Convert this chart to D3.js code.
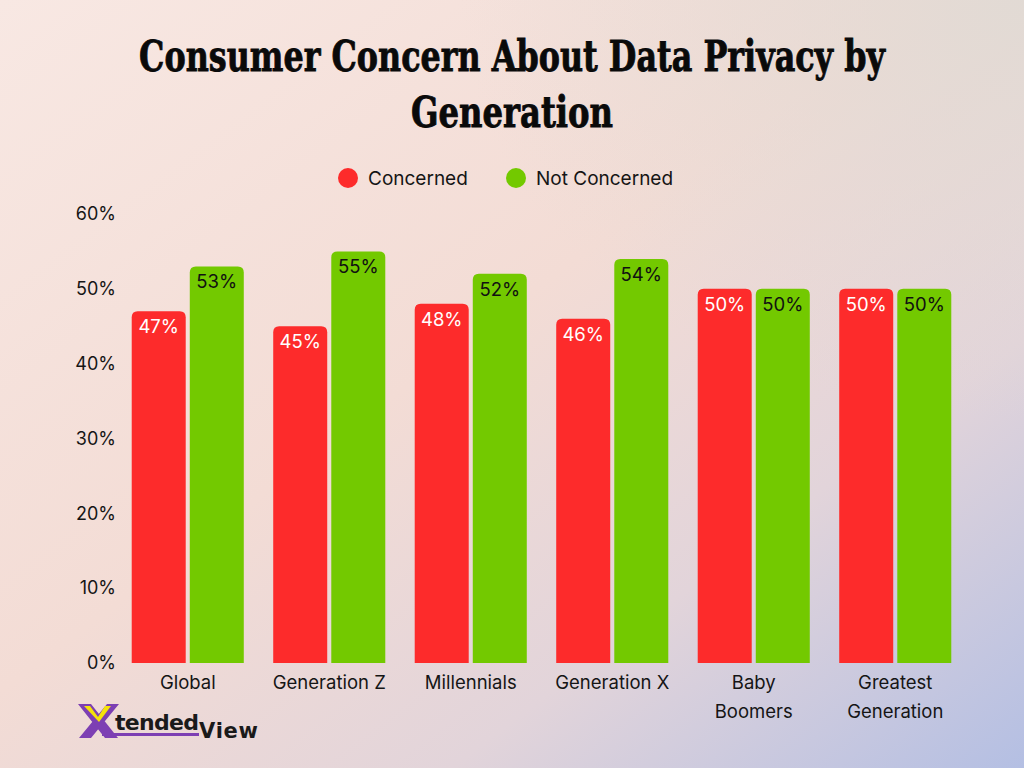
<!DOCTYPE html>
<html>
<head>
<meta charset="utf-8">
<script src="https://cdn.jsdelivr.net/npm/d3@7"></script>
<style>
  html, body { margin: 0; padding: 0; }
  body { width: 1024px; height: 768px; overflow: hidden; }
  text { font-family: "Inter", "Open Sans", sans-serif; }
</style>
</head>
<body>
<div id="chart"></div>
<script>
// Data
const categories = [["Global"], ["Generation Z"], ["Millennials"], ["Generation X"], ["Baby", "Boomers"], ["Greatest", "Generation"]];
const seriesNames = ["Concerned", "Not Concerned"];
const concerned = [47, 45, 48, 46, 50, 50];
const notConcerned = [53, 55, 52, 54, 50, 50];
const yTicks = [0, 10, 20, 30, 40, 50, 60];

const colors = {"Concerned": "#fd2b2b", "Not Concerned": "#73c900"};
const labelColors = {"Concerned": "#ffffff", "Not Concerned": "#111111"};

const width = 1024, height = 768;
const margin = {top: 214, bottom: 663, left: 117, right: 966};

const svg = d3.select("#chart").append("svg")
    .attr("width", width)
    .attr("height", height);

// background gradient
const defs = svg.append("defs");
const grad = defs.append("linearGradient")
    .attr("id", "bg")
    .attr("x1", "0%").attr("y1", "0%")
    .attr("x2", "100%").attr("y2", "100%");
grad.append("stop").attr("offset", "0%").attr("stop-color", "#f8e8e3");
grad.append("stop").attr("offset", "45%").attr("stop-color", "#f3dcd5");
grad.append("stop").attr("offset", "72%").attr("stop-color", "#e2d4da");
grad.append("stop").attr("offset", "100%").attr("stop-color", "#b4bfe3");
svg.append("rect").attr("width", width).attr("height", height).attr("fill", "url(#bg)");

// greyer top-right corner
const glow = defs.append("radialGradient")
    .attr("id", "tr")
    .attr("cx", "100%").attr("cy", "0%").attr("r", "55%");
glow.append("stop").attr("offset", "0%").attr("stop-color", "#e0dad4").attr("stop-opacity", 0.9);
glow.append("stop").attr("offset", "100%").attr("stop-color", "#e0dad4").attr("stop-opacity", 0);
svg.append("rect").attr("width", width).attr("height", height).attr("fill", "url(#tr)");

// Title - squeeze horizontally to get the condensed look
const titleLines = [
    {text: "Consumer Concern About Data Privacy by", y: 71, len: 746},
    {text: "Generation", y: 127, len: 202}
];
svg.append("g").selectAll("text")
    .data(titleLines)
    .enter().append("text")
    .attr("text-anchor", "middle")
    .style("font-family", "'DejaVu Serif', serif")
    .style("font-weight", "bold")
    .style("font-size", "42px")
    .attr("fill", "#0a0a0a")
    .attr("stroke", "#0a0a0a")
    .attr("stroke-width", 0.9)
    .text(d => d.text)
    .each(function(d) {
        const w = this.getComputedTextLength();
        d3.select(this).attr("transform",
            "translate(512," + d.y + ") scale(" + (d.len / w) + ",1)");
    });

// Legend
const legendX = [348, 516];
const legend = svg.append("g").selectAll("g")
    .data(seriesNames)
    .enter().append("g")
    .attr("transform", (d, i) => "translate(" + legendX[i] + ",178)");
legend.append("circle").attr("r", 10).attr("fill", d => colors[d]);
legend.append("text")
    .attr("x", 20).attr("y", 7)
    .style("font-size", "19px")
    .attr("fill", "#151515")
    .text(d => d);

// Scales
const x0 = d3.scaleBand()
    .domain(d3.range(categories.length))
    .range([margin.left, margin.right])
    .paddingInner(0.208)
    .paddingOuter(0.104);
const x1 = d3.scaleBand()
    .domain(seriesNames)
    .range([0, x0.bandwidth()])
    .paddingInner(0.07);
const y = d3.scaleLinear().domain([0, 60]).range([margin.bottom, margin.top]);

// Y axis
const yAxis = d3.axisLeft(y)
    .tickValues(yTicks)
    .tickFormat(d => d + "%")
    .tickSize(0)
    .tickPadding(0);
const yg = svg.append("g")
    .attr("transform", "translate(116,0)")
    .call(yAxis);
yg.select(".domain").remove();
yg.selectAll("text")
    .style("font-family", "Inter, sans-serif")
    .style("font-size", "18px")
    .attr("fill", "#151515");

// X axis
const xAxis = d3.axisBottom(x0).tickSize(0).tickFormat("");
const xg = svg.append("g")
    .attr("transform", "translate(0," + margin.bottom + ")")
    .call(xAxis);
xg.select(".domain").remove();
xg.selectAll(".tick").each(function(d) {
    const t = d3.select(this).append("text")
        .attr("text-anchor", "middle")
        .style("font-family", "Inter, sans-serif")
        .style("font-size", "18.5px")
        .attr("fill", "#151515");
    categories[d].forEach((line, i) => {
        t.append("tspan").attr("x", 0).attr("y", 26 + i * 29).text(line);
    });
});

// Bars
const rows = categories.map((c, i) => ({
    idx: i,
    values: [
        {key: "Concerned", value: concerned[i]},
        {key: "Not Concerned", value: notConcerned[i]}
    ]
}));

function topRounded(xp, yp, w, h, r) {
    return "M" + xp + "," + (yp + h) +
        "V" + (yp + r) +
        "Q" + xp + "," + yp + " " + (xp + r) + "," + yp +
        "H" + (xp + w - r) +
        "Q" + (xp + w) + "," + yp + " " + (xp + w) + "," + (yp + r) +
        "V" + (yp + h) + "Z";
}

const groups = svg.append("g").selectAll("g")
    .data(rows)
    .enter().append("g")
    .attr("transform", d => "translate(" + x0(d.idx) + ",0)");

groups.selectAll("path")
    .data(d => d.values)
    .enter().append("path")
    .attr("d", d => topRounded(x1(d.key), y(d.value), x1.bandwidth(), y(0) - y(d.value), 6))
    .attr("fill", d => colors[d.key]);

groups.selectAll("text.val")
    .data(d => d.values)
    .enter().append("text")
    .attr("class", "val")
    .attr("x", d => x1(d.key) + x1.bandwidth() / 2)
    .attr("y", d => y(d.value) + 22)
    .attr("text-anchor", "middle")
    .style("font-family", "Inter, sans-serif")
    .style("font-size", "18.5px")
    .attr("fill", d => labelColors[d.key])
    .text(d => d.value + "%");

// Logo
const logo = svg.append("g").attr("transform", "translate(78,704)");
// purple X
logo.append("path")
    .attr("d", "M0,0 L13,0 L40,34 L27,34 Z M29,0 L41,0 L13,34 L1,34 Z")
    .attr("fill", "#7d3fb3");
// yellow V inside the upper arms
logo.append("path")
    .attr("d", "M6,2 L12,2 L20,13 L27,2 L33,2 L21,18 Z")
    .attr("fill", "#f5e20a");
logo.append("text")
    .attr("x", 37).attr("y", 26)
    .style("font-family", "'DejaVu Sans', sans-serif")
    .style("font-weight", "bold")
    .style("font-size", "22px")
    .attr("textLength", 84)
    .attr("fill", "#1a1a1a")
    .text("tended");
logo.append("rect")
    .attr("x", 24).attr("y", 29).attr("width", 97).attr("height", 3)
    .attr("fill", "#7d3fb3");
logo.append("text")
    .attr("x", 121).attr("y", 34)
    .style("font-family", "'DejaVu Sans', sans-serif")
    .style("font-weight", "bold")
    .style("font-size", "21px")
    .attr("textLength", 59)
    .attr("fill", "#1a1a1a")
    .text("View");
</script>
</body>
</html>
